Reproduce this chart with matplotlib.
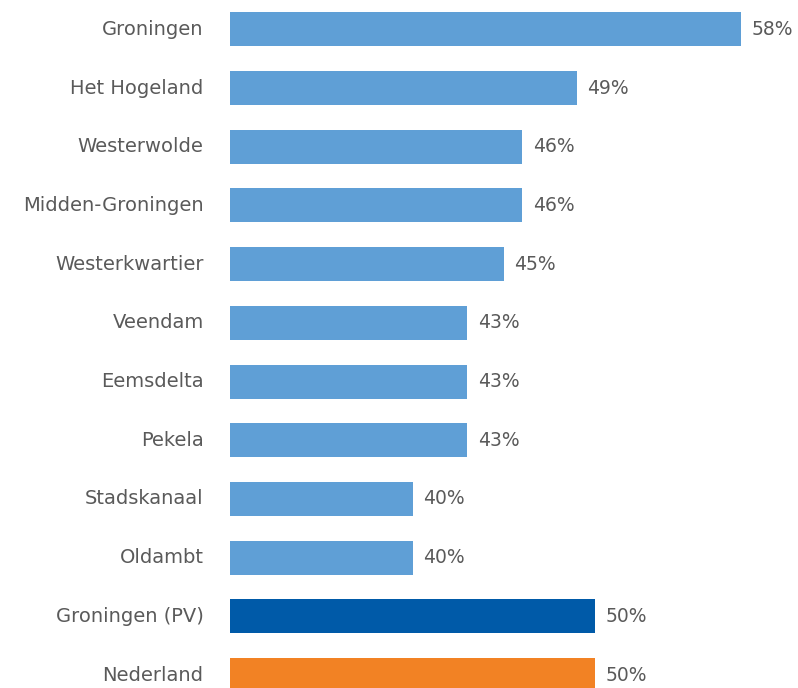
import matplotlib
matplotlib.use("Agg")
import matplotlib.pyplot as plt

categories = ["Groningen", "Het Hogeland", "Westerwolde", "Midden-Groningen",
              "Westerkwartier", "Veendam", "Eemsdelta", "Pekela", "Stadskanaal",
              "Oldambt", "Groningen (PV)", "Nederland"]
values = [58, 49, 46, 46, 45, 43, 43, 43, 40, 40, 50, 50]
colors = ["#5f9fd6"] * 10 + ["#005aa8", "#f28224"]

plt.rcParams['font.family'] = ['DejaVu Sans']
fig = plt.figure(figsize=(7.98, 6.88), dpi=100)
ax = fig.add_axes([230/798, 0, 1 - 230/798, 1])

y = list(range(len(categories)))
ax.barh(y, values, height=0.58, color=colors, edgecolor='none')
for yi, v in zip(y, values):
    ax.annotate(f"{v}%", xy=(v, yi), xytext=(7.5, 0), textcoords='offset points',
                va='center', ha='left', fontsize=13.5, color='#5a5a5a')

ax.set_xlim(30, 61.1)
ax.set_ylim(11.22, -0.5)
ax.set_yticks(y)
ax.set_yticklabels(categories, fontsize=14, color='#5a5a5a', va='center')
ax.tick_params(axis='y', length=0, pad=19)
ax.set_xticks([])
for s in ax.spines.values():
    s.set_visible(False)

fig.savefig("out.png", dpi=100)
